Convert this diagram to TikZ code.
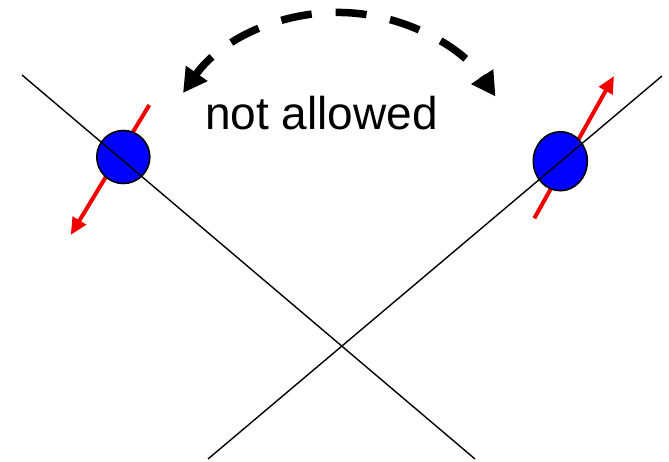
\documentclass[tikz,border=0pt]{standalone}
\usepackage{fontspec}
\setmainfont{Liberation Sans}
\usetikzlibrary{arrows.meta,shapes.geometric}
\begin{document}
\begin{tikzpicture}[x=1pt,y=-1pt,
  axis/.style={line width=1.4pt,black},
  spin/.style={line width=4pt,red!95!black,-{Triangle[length=17pt,width=15pt]}},
  ball/.style={draw=black,line width=1.6pt,fill=blue,inner sep=0pt},
  swap/.style={line width=7.5pt,dash pattern=on 31pt off 24pt,dash phase=7pt,
    {Triangle[length=24pt,width=25pt]}-{Triangle[length=24pt,width=25pt]}},
  label/.style={font=\fontsize{46}{55}\selectfont,anchor=base,inner sep=0pt}]
\useasboundingbox (0,0) rectangle (669,462);

% crossing lines
\coordinate (a1) at (22,75);
\coordinate (a2) at (475,459);
\coordinate (c1) at (208,459);
\coordinate (c2) at (662,76);

% spin arrows (behind the balls)
\coordinate (s1a) at (149.3,105);
\coordinate (s1b) at (70.7,235);
\coordinate (s2a) at (534.3,218.3);
\coordinate (s2b) at (614,76);
\draw[spin] (s1a) -- (s1b);
\draw[spin] (s2a) -- (s2b);

% balls
\node[ball,circle,minimum size=53pt] (b1) at (123.3,157) {};
\node[ball,ellipse,minimum width=54pt,minimum height=59pt] (b2) at (560.3,161.2) {};

% lines over the balls
\draw[axis] (a1) -- (a2);
\draw[axis] (c1) -- (c2);

% forbidden transition
\coordinate (t1) at (183,93);
\draw[swap] (t1) arc[start angle=-144.9,end angle=-33.8,radius=189.5];

\node[label] (txt) at (321.5,130) {not allowed};
\end{tikzpicture}
\end{document}
